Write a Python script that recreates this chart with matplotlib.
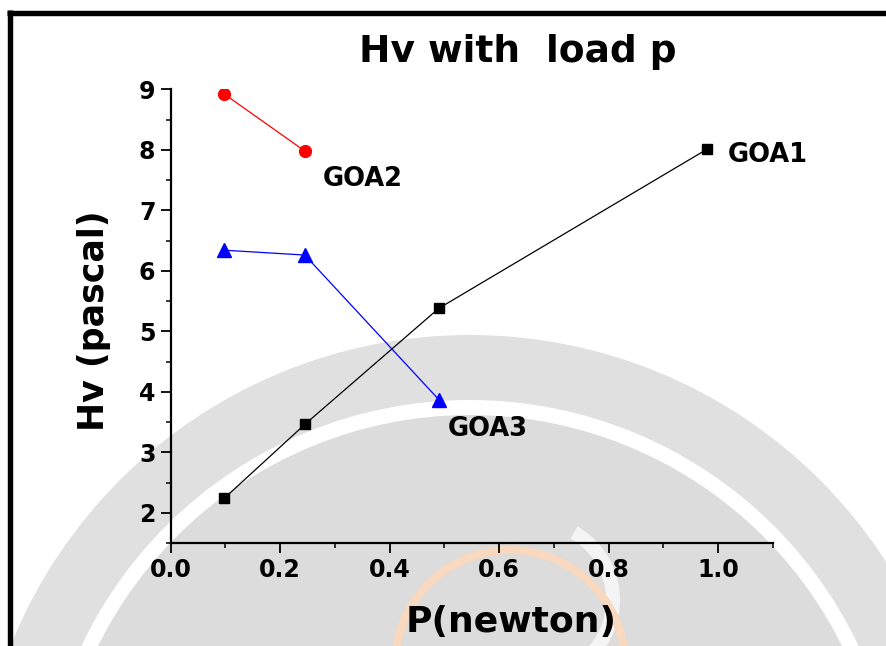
import matplotlib
matplotlib.use("Agg")
import matplotlib.pyplot as plt
from matplotlib.patches import Circle, Wedge
from matplotlib.lines import Line2D
from matplotlib.ticker import MultipleLocator

plt.rcParams['font.family'] = ['DejaVu Sans']

# Data
load_n = [0.098, 0.245, 0.49, 0.98]
goa1 = [2.24, 3.46, 5.38, 8.01]
goa2_x = [0.098, 0.245]
goa2 = [8.92, 7.98]
goa3_x = [0.098, 0.245, 0.49]
goa3 = [6.34, 6.26, 3.87]
x_ticks = [0.0, 0.2, 0.4, 0.6, 0.8, 1.0]
y_ticks = [2, 3, 4, 5, 6, 7, 8, 9]

W, H = 887, 646
fig = plt.figure(figsize=(W / 100, H / 100), dpi=100)

# background watermark (decorative)
bg = fig.add_axes([0, 0, 1, 1], zorder=0)
bg.set_xlim(0, W)
bg.set_ylim(H, 0)
bg.axis('off')
bg.add_patch(Circle((470, 830), 495, color='#e0e0e0', lw=0))
bg.add_patch(Circle((470, 830), 430, color='white', lw=0))
bg.add_patch(Circle((470, 830), 415, color='#dcdcdc', lw=0))
bg.add_patch(Wedge((535, 600), 85, -60, 85, width=14, color='#f4f4f4', lw=0))
bg.add_patch(Circle((510, 665), 115, facecolor='none', edgecolor='#f8d8bf', lw=6))

# border
fig.add_artist(Line2D([9.8 / W, 9.8 / W], [0, 1 - 10 / H], color='black', lw=3.9,
                      transform=fig.transFigure, solid_capstyle='butt'))
fig.add_artist(Line2D([7 / W, 1], [1 - 12.7 / H, 1 - 12.7 / H], color='black', lw=3.9,
                      transform=fig.transFigure, solid_capstyle='butt'))

ax = fig.add_axes([170.7 / W, 1 - 543 / H, (772.7 - 170.7) / W, (543 - 89.3) / H], zorder=1)
ax.patch.set_alpha(0)

ax.plot(load_n, goa1, color='black', lw=0.9, marker='s', ms=7.5, mfc='black', mec='black')
ax.plot(goa2_x, goa2, color='red', lw=0.9, marker='o', ms=8.5, mfc='red', mec='red')
ax.plot(goa3_x, goa3, color='blue', lw=0.9, marker='^', ms=9.5, mfc='blue', mec='blue')

ax.set_xlim(0, 1.1)
ax.set_ylim(1.5, 9)
ax.set_xticks(x_ticks)
ax.set_xticklabels([f"{v:.1f}" for v in x_ticks])
ax.set_yticks(y_ticks)
ax.set_yticklabels([str(v) for v in y_ticks])
ax.xaxis.set_minor_locator(MultipleLocator(0.1))
ax.yaxis.set_minor_locator(MultipleLocator(0.5))

for s in ['top', 'right']:
    ax.spines[s].set_visible(False)
for s in ['left', 'bottom']:
    ax.spines[s].set_linewidth(1.6)

ax.tick_params(which='major', direction='out', length=7, width=1.3, labelsize=17, pad=4)
ax.tick_params(which='minor', direction='out', length=3.5, width=1.1)
for lab in ax.get_xticklabels() + ax.get_yticklabels():
    lab.set_fontweight('bold')

ax.text(1.017, 7.91, 'GOA1', fontsize=18.5, fontweight='bold', ha='left', va='center')
ax.text(0.278, 7.52, 'GOA2', fontsize=18.5, fontweight='bold', ha='left', va='center')
ax.text(0.506, 3.39, 'GOA3', fontsize=18.5, fontweight='bold', ha='left', va='center')

fig.text(517.5 / W, 1 - 62 / H, 'Hv with  load p', fontsize=27, fontweight='bold',
         ha='center', va='baseline')
fig.text(511 / W, 1 - 632 / H, 'P(newton)', fontsize=26, fontweight='bold',
         ha='center', va='baseline')
fig.text(94 / W, 1 - 321 / H, 'Hv (pascal)', fontsize=25, fontweight='bold',
         ha='center', va='center', rotation=90)

fig.savefig('out.png', dpi=100)
